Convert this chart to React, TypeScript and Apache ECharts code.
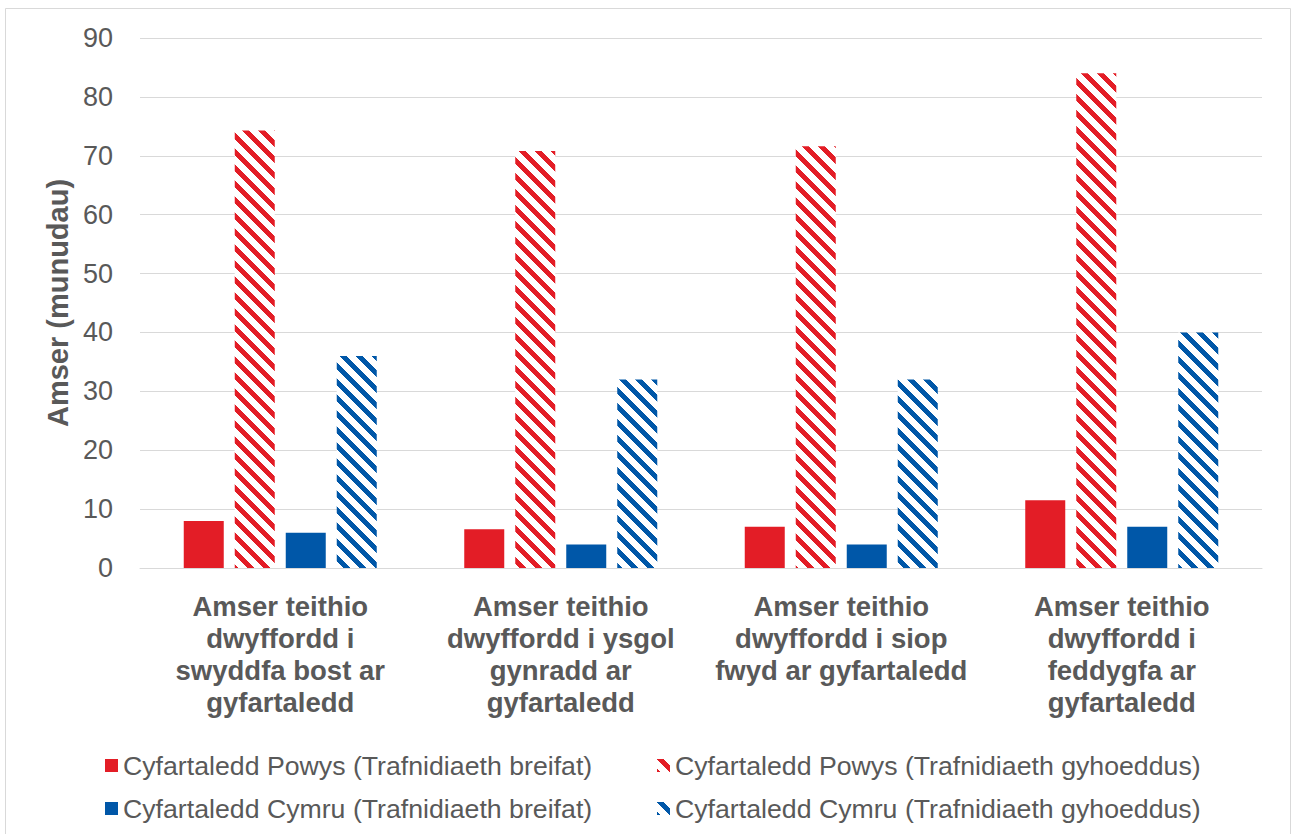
import React, { useEffect, useRef } from "react";
import * as echarts from "echarts";

const categories = [
  "Amser teithio\ndwyffordd i\nswyddfa bost ar\ngyfartaledd",
  "Amser teithio\ndwyffordd i ysgol\ngynradd ar\ngyfartaledd",
  "Amser teithio\ndwyffordd i siop\nfwyd ar gyfartaledd",
  "Amser teithio\ndwyffordd i\nfeddygfa ar\ngyfartaledd",
];
const seriesNames = [
  "Cyfartaledd Powys (Trafnidiaeth breifat)",
  "Cyfartaledd Powys (Trafnidiaeth gyhoeddus)",
  "Cyfartaledd Cymru (Trafnidiaeth breifat)",
  "Cyfartaledd Cymru (Trafnidiaeth gyhoeddus)",
];
const powysPrivate = [8, 6.6, 7, 11.5];
const powysPublic = [74.3, 70.8, 71.6, 84];
const cymruPrivate = [6, 4, 4, 7];
const cymruPublic = [36, 32, 32, 40];

const RED = "#e31d26";
const BLUE = "#0057a8";
const FONT = "'Liberation Sans', Arial, sans-serif";
const TEXT = "#595959";

function makeHatch(color: string) {
  const c = document.createElement("canvas");
  const p = 16;
  c.width = p;
  c.height = p;
  const ctx = c.getContext("2d")!;
  ctx.fillStyle = "#ffffff";
  ctx.fillRect(0, 0, p, p);
  ctx.fillStyle = color;
  for (let x = 0; x < p; x++) {
    for (let y = 0; y < p; y++) {
      if ((((x - y) % p) + p) % p < 7) ctx.fillRect(x, y, 1, 1);
    }
  }
  return { image: c, repeat: "repeat" } as any;
}

export default function App() {
  const ref = useRef<HTMLDivElement>(null);
  useEffect(() => {
    if (!ref.current) return;
    const chart = echarts.init(ref.current, undefined, { renderer: "svg" });
    const legendBase = {
      itemWidth: 13,
      itemHeight: 13,
      itemGap: 5,
      icon: "rect",
      textStyle: { fontSize: 26.7, color: TEXT, fontFamily: FONT },
      selectedMode: false,
    };
    chart.setOption({
      animation: false,
      backgroundColor: "#ffffff",
      textStyle: { fontFamily: FONT },
      graphic: [
        {
          type: "rect",
          shape: { x: 5.5, y: 8.5, width: 1285, height: 840 },
          style: { fill: "none", stroke: "#d9d9d9", lineWidth: 1 },
          silent: true,
        },
      ],
      grid: { left: 140, right: 30, top: 38, bottom: 266 },
      legend: [
        { ...legendBase, left: 100, top: 747, data: [seriesNames[0]] },
        { ...legendBase, left: 652, top: 747, data: [seriesNames[1]] },
        { ...legendBase, left: 100, top: 790, data: [seriesNames[2]] },
        { ...legendBase, left: 652, top: 790, data: [seriesNames[3]] },
      ],
      xAxis: {
        type: "category",
        data: categories,
        axisLine: { lineStyle: { color: "#d9d9d9", width: 1 } },
        axisTick: { show: false },
        axisLabel: {
          fontSize: 27.5,
          fontWeight: "bold",
          color: TEXT,
          lineHeight: 32,
          margin: 22,
          interval: 0,
          fontFamily: FONT,
        },
      },
      yAxis: {
        type: "value",
        min: 0,
        max: 90,
        interval: 10,
        name: "Amser (munudau)",
        nameLocation: "middle",
        nameGap: 66,
        nameRotate: 90,
        nameTextStyle: { fontSize: 29, fontWeight: "bold", color: TEXT, fontFamily: FONT },
        axisLine: { show: false },
        axisTick: { show: false },
        axisLabel: { fontSize: 27, color: TEXT, margin: 27, fontFamily: FONT },
        splitLine: { lineStyle: { color: "#d9d9d9", width: 1 } },
      },
      series: [
        { name: seriesNames[0], type: "bar", data: powysPrivate, barWidth: 40, barGap: "27.5%", itemStyle: { color: RED } },
        { name: seriesNames[1], type: "bar", data: powysPublic, barWidth: 40, barGap: "27.5%", itemStyle: { color: makeHatch(RED) } },
        { name: seriesNames[2], type: "bar", data: cymruPrivate, barWidth: 40, barGap: "27.5%", itemStyle: { color: BLUE } },
        { name: seriesNames[3], type: "bar", data: cymruPublic, barWidth: 40, barGap: "27.5%", itemStyle: { color: makeHatch(BLUE) } },
      ],
    });
    return () => chart.dispose();
  }, []);
  return (
    <div
      ref={ref}
      style={{ position: "absolute", left: 0, top: 0, width: 1292, height: 834 }}
    />
  );
}
